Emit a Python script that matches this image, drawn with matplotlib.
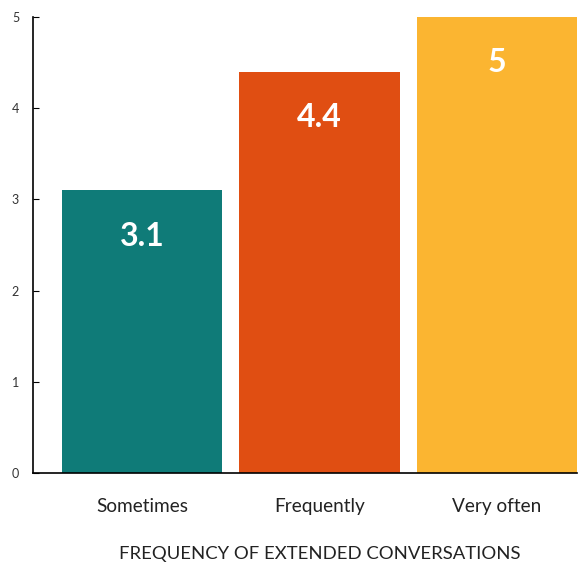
import matplotlib.pyplot as plt

# --- date ---
categories = ["Sometimes", "Frequently", "Very often"]
values = [3.1, 4.4, 5]
colors = ["#0F7B78", "#E04E12", "#FBB531"]
yticks = [0, 1, 2, 3, 4, 5]

plt.rcParams['font.family'] = ['Lato', 'DejaVu Sans']

fig = plt.figure(figsize=(5.83, 5.63), dpi=100)
ax = fig.add_axes([33 / 583, 90 / 563, 544 / 583, 456 / 563])

x = list(range(len(categories)))
ax.bar(x, values, width=0.904, color=colors)

# etichete în interiorul barelor
for xi, v in zip(x, values):
    ax.annotate(f"{v:g}", (xi, v), xytext=(0, -33), textcoords="offset points",
                ha="center", va="center", color="white", fontsize=23, fontweight="bold")

ax.set_xlim(-0.616, 2.452)
ax.set_ylim(0, 5)
ax.set_yticks(yticks)
ax.set_xticks(x)
ax.set_xticklabels(categories, fontsize=13.7, color="#222222")
ax.tick_params(axis="y", direction="in", length=4, labelsize=9, labelcolor="#333333", pad=10)
ax.tick_params(axis="x", length=0, pad=18)

for s in ["top", "right"]:
    ax.spines[s].set_visible(False)
ax.spines["left"].set_linewidth(1.2)
ax.spines["bottom"].set_linewidth(1.2)

fig.text(320 / 583, 1 - 554 / 563, "FREQUENCY OF EXTENDED CONVERSATIONS",
         ha="center", va="center", fontsize=13.3, color="#222222")

fig.savefig("out.png", dpi=100)
